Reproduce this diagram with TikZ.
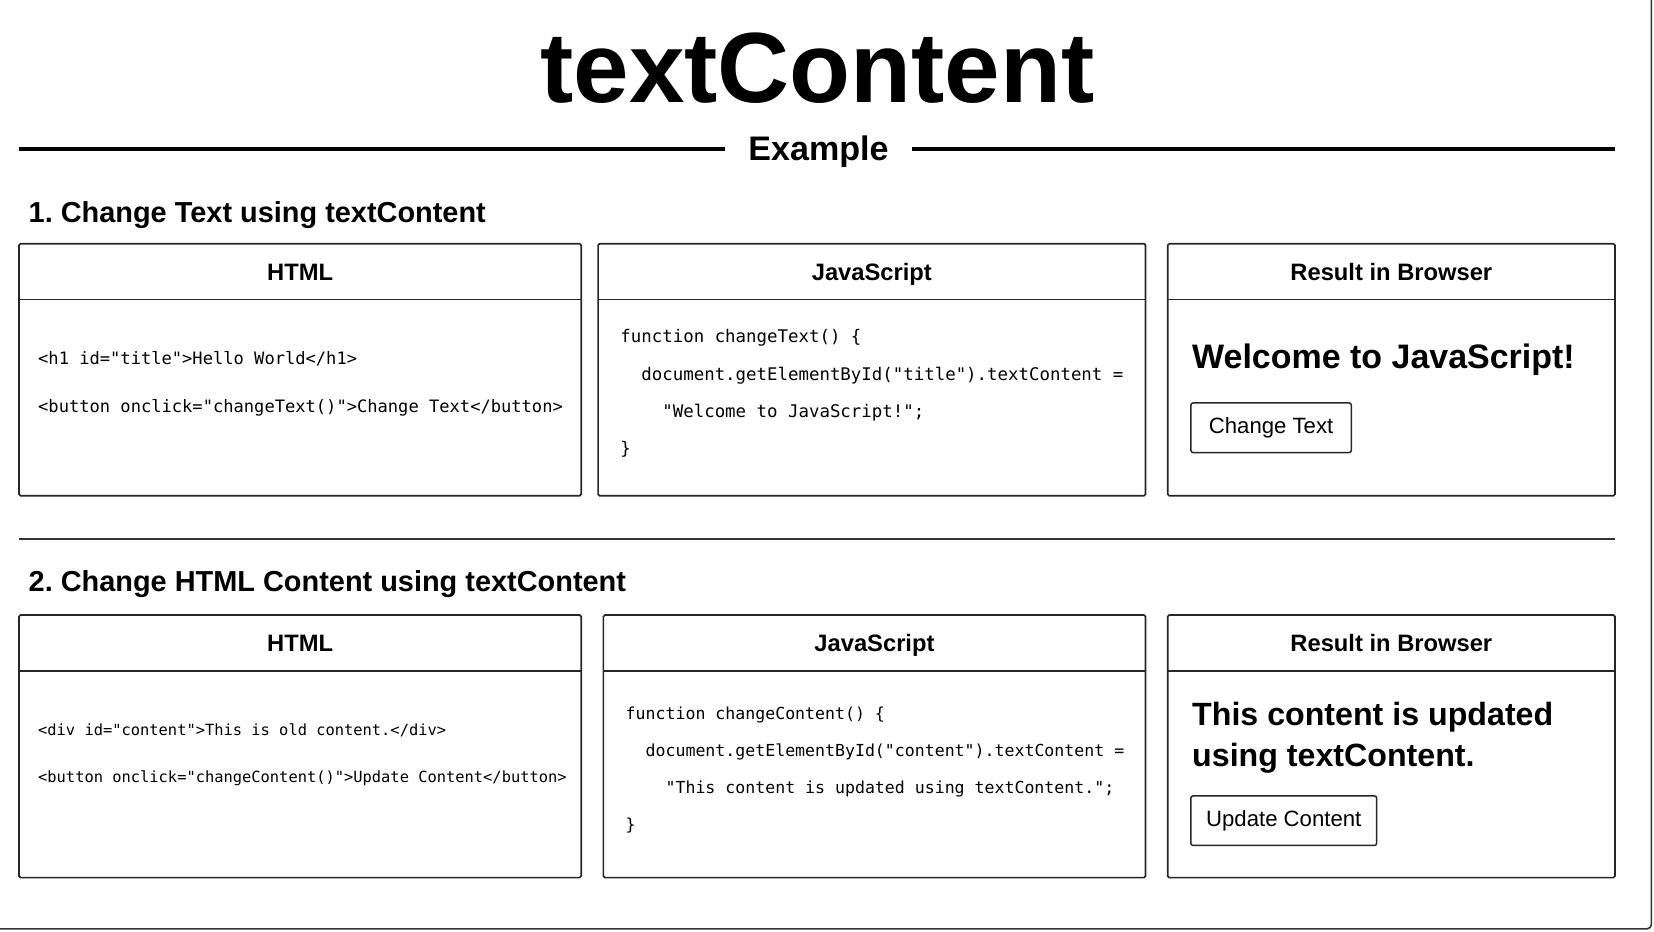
\documentclass[tikz,border=0pt]{standalone}
\usepackage{fontspec}
\setmainfont{Liberation Sans}
\setmonofont{DejaVu Sans Mono}
\usepackage{tikz}
\usetikzlibrary{positioning}
\frenchspacing

\tikzset{
    panel/.style={draw=black!85, line width=1.6pt, rounded corners=1.5pt},
    headtext/.style={font=\bfseries\fontsize{22.5}{26}\selectfont, anchor=base, inner sep=0pt},
    sectitle/.style={font=\bfseries\fontsize{27.4}{32}\selectfont, anchor=base west, inner sep=0pt},
    codetext/.style={font=\ttfamily\fontsize{#1}{#1}\selectfont, anchor=base west, inner sep=0pt},
    resulttext/.style={font=\bfseries\fontsize{#1}{39}\selectfont, anchor=base west, inner sep=0pt},
    btn/.style={draw=black!85, line width=1.4pt, rounded corners=2pt, inner sep=0pt,
        minimum height=47pt, font=\fontsize{21}{24}\selectfont},
    rule/.style={line width=3.5pt, black}
}

\begin{document}
\begin{tikzpicture}[x=1pt, y=-1pt]
    \useasboundingbox (0,0) rectangle (1568,883);
    % page frame
    \draw[black!80, line width=1.5pt, rounded corners=4pt] (1565.5,0) |- (0,880.5);

    % title
    \node[anchor=base, inner sep=0pt, font=\bfseries\fontsize{94.6}{100}\selectfont] (title) at (775,97) {textContent};
    \node[anchor=base, inner xsep=22pt, inner ysep=0pt, font=\bfseries\fontsize{32.3}{36}\selectfont] (example) at (776,152) {Example};
    \coordinate (ruleL) at (18,141);
    \coordinate (ruleR) at (1531,141);
    \draw[rule] (ruleL) -- (ruleL -| example.west);
    \draw[rule] (example.east |- ruleR) -- (ruleR);

    % section 1
    \node[sectitle] (sec1) at (27,211) {1. Change Text using textContent};
    \foreach \xa/\xb/\head [count=\i] in {18/551/HTML, 567/1086/JavaScript, 1107/1531/Result in Browser} {
        \draw[panel] (\xa,231) rectangle (\xb,470);
        \draw[panel] (\xa,284) -- (\xb,284);
        \node[headtext] (headA\i) at ({(\xa+\xb)/2},266) {\head};
    }
    \node[codetext=16.2] (htmlA1) at (36,346) {<h1 id="title">Hello World</h1>};
    \node[codetext=16.2] (htmlA2) at (36,391) {<button onclick="changeText()">Change Text</button>};
    \foreach \ind/\txt [count=\i] in {0/{function changeText() \{}, 2/{document.getElementById("title").textContent =},
            4/{"Welcome to JavaScript!";}, 0/{\}}} {
        \node[codetext=16.5] (jsA\i) at ({588+\ind*9.93},{325+(\i-1)*35.3}) {\txt};
    }
    \node[resulttext=32.2] (resA) at (1130,349) {Welcome to JavaScript!};
    \node[btn, minimum width=152pt] (btnA) at (1205,405.5) {Change Text};

    % separator
    \draw[black!80, line width=1.6pt] (18,511) -- (1531,511);

    % section 2
    \node[sectitle] (sec2) at (27,561) {2. Change HTML Content using textContent};
    \foreach \xa/\xb/\head [count=\i] in {18/551/HTML, 572/1086/JavaScript, 1107/1531/Result in Browser} {
        \draw[panel] (\xa,583) rectangle (\xb,832);
        \draw[panel] (\xa,636) -- (\xb,636);
        \node[headtext] (headB\i) at ({(\xa+\xb)/2},618) {\head};
    }
    \node[codetext=14.6] (htmlB1) at (36,697) {<div id="content">This is old content.</div>};
    \node[codetext=14.6] (htmlB2) at (36,742) {<button onclick="changeContent()">Update Content</button>};
    \foreach \ind/\txt [count=\i] in {0/{function changeContent() \{}, 2/{document.getElementById("content").textContent =},
            4/{"This content is updated using textContent.";}, 0/{\}}} {
        \node[codetext=15.7] (jsB\i) at ({593+\ind*9.45},{682+(\i-1)*35}) {\txt};
    }
    \node[resulttext=30.5] (resB1) at (1130,688) {This content is updated};
    \node[resulttext=30.5] (resB2) at (1130,727) {using textContent.};
    \node[btn, minimum width=176pt] (btnB) at (1217,778) {Update Content};
\end{tikzpicture}
\end{document}
